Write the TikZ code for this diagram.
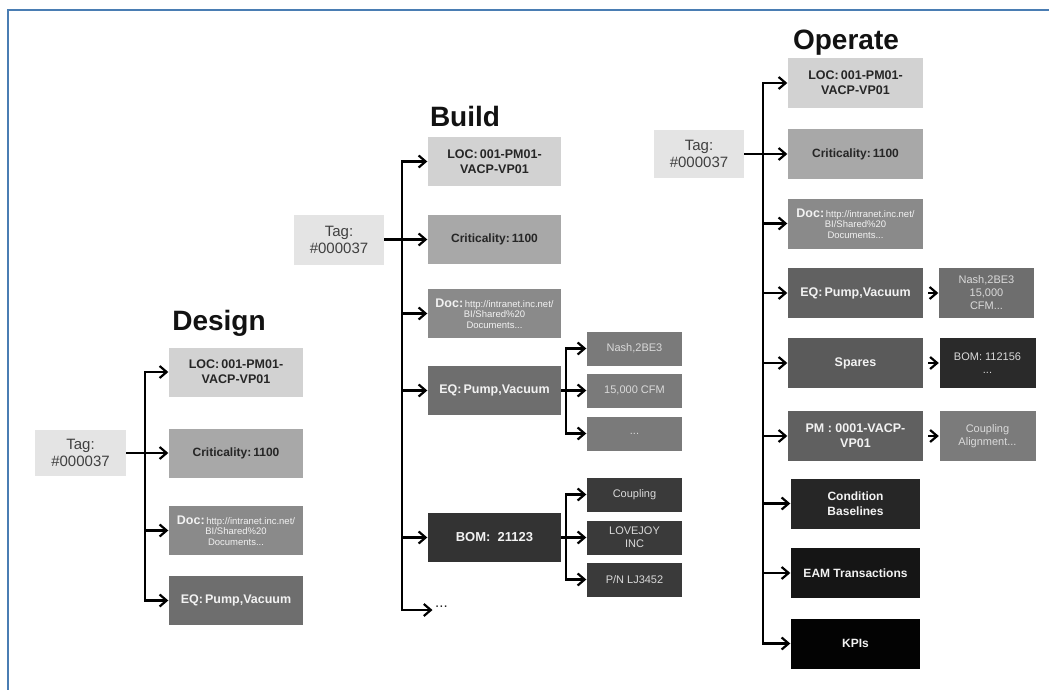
\documentclass[tikz,border=0pt]{standalone}
\usepackage{fontspec}
\setmainfont{Liberation Sans}
\usetikzlibrary{arrows.meta}
\definecolor{frameblue}{HTML}{4A7DB3}
\definecolor{tagfill}{HTML}{E4E4E4}
\definecolor{tagtext}{HTML}{404040}
\definecolor{locfill}{HTML}{D2D2D2}
\definecolor{critfill}{HTML}{A8A8A8}
\definecolor{docfill}{HTML}{8A8A8A}
\definecolor{eqfill}{HTML}{6E6E6E}
\definecolor{eqchild}{HTML}{7A7A7A}
\definecolor{bomfill}{HTML}{333333}
\definecolor{bomchild}{HTML}{3A3A3A}
\definecolor{sparefill}{HTML}{5A5A5A}
\definecolor{obomfill}{HTML}{2A2A2A}
\definecolor{pmfill}{HTML}{606060}
\definecolor{coupfill}{HTML}{7B7B7B}
\definecolor{condfill}{HTML}{262626}
\definecolor{eamfill}{HTML}{151515}
\definecolor{kpifill}{HTML}{030303}
\definecolor{darktext}{HTML}{262626}
\definecolor{lighttext}{HTML}{F2F2F2}
\definecolor{softtext}{HTML}{DADADA}
\begin{document}
\begin{tikzpicture}[x=1pt,y=-1pt,
  box/.style={rectangle, inner sep=0pt, align=center, text=lighttext,
    font=\bfseries\fontsize{12.5}{15}\selectfont},
  bigbox/.style={box, minimum width=134pt, minimum height=49pt},
  obox/.style={box, minimum width=135pt, minimum height=50pt},
  nbox/.style={box, minimum width=129pt, minimum height=50pt, font=\bfseries\fontsize{12}{15}\selectfont},
  childbox/.style={box, minimum width=95pt, minimum height=34pt, text=softtext,
    font=\fontsize{11}{13}\selectfont},
  ochildbox/.style={childbox, minimum height=50pt},
  tagbox/.style={rectangle, inner sep=0pt, fill=tagfill, minimum width=90pt, minimum height=47pt,
    align=center, text=tagtext, font=\fontsize{15}{17}\selectfont},
  title/.style={inner sep=0pt, text=black!93, font=\bfseries\fontsize{28}{30}\selectfont},
  loc/.style={fill=locfill, text=darktext},
  crit/.style={fill=critfill, text=darktext, font=\bfseries\fontsize{12}{14}\selectfont},
  docb/.style={fill=docfill, font=\fontsize{9.5}{10.5}\selectfont},
  arr/.style={line width=2.4pt, -{Straight Barb[length=7pt,width=12pt,line width=2.2pt]}, shorten >=0.5pt},
  ln/.style={line width=2.4pt}
]
\useasboundingbox (0,0) rectangle (1049,690);
\fill[white] (0,0) rectangle (1049,690);
\draw[frameblue, line width=2pt] (7.5,690) -- (7.5,10.5) -- (1049,10.5);

\newcommand{\doctext}{{\bfseries\fontsize{12.5}{12}\selectfont Doc:}\,http://intranet.inc.net/\\BI/Shared\%20\\Documents...}

% ---------------- Design ----------------
\node[title] (dtitle) at (219,323) {Design};
\node[tagbox, minimum width=91pt, minimum height=46pt] (dtag) at (80.5,453) {Tag:\\\#000037};
\node[bigbox, loc] (dloc) at (236,372) {LOC:\,001-PM01-\\VACP-VP01};
\node[bigbox, crit] (dcrit) at (236,453) {Criticality:\,1100};
\node[bigbox, docb] (ddoc) at (236,530.5) {\doctext};
\node[bigbox, fill=eqfill] (deq) at (236,600.5) {EQ:\,Pump,Vacuum};
\coordinate (dj) at (145,453);
\draw[arr] (dtag.east) -- (dcrit.west);
\draw[arr] (dj) |- (dloc.west);
\draw[arr] (dj) |- (ddoc.west);
\draw[arr] (dj) |- (deq.west);

% ---------------- Build ----------------
\node[title] (btitle) at (465,116) {Build};
\node[tagbox, minimum height=50pt] (btag) at (339,239.5) {Tag:\\\#000037};
\node[bigbox, loc, minimum width=133pt] (bloc) at (494.5,161.5) {LOC:\,001-PM01-\\VACP-VP01};
\node[bigbox, crit, minimum width=133pt] (bcrit) at (494.5,239.5) {Criticality:\,1100};
\node[bigbox, docb, minimum width=133pt] (bdoc) at (494.5,313.5) {\doctext};
\node[bigbox, fill=eqfill, minimum width=133pt] (beq) at (494.5,390.5) {EQ:\,Pump,Vacuum};
\node[bigbox, fill=bomfill, minimum width=133pt, font=\bfseries\fontsize{13}{15}\selectfont] (bbom) at (494.5,537.5) {BOM:\ \ 21123};
\node[anchor=west, inner sep=2pt, font=\fontsize{15}{15}\selectfont, text=black!85] (bmore) at (433,607) {...};
\coordinate (bj) at (402,239.5);
\draw[arr] (btag.east) -- (bcrit.west);
\draw[arr] (bj) |- (bloc.west);
\draw[arr] (bj) |- (bdoc.west);
\draw[arr] (bj) |- (beq.west);
\draw[arr] (bj) |- (bbom.west);
\draw[arr] (bj) |- (bmore.west |- 0,610);

\node[childbox, fill=eqchild] (bnash) at (634.5,348.5) {Nash,2BE3};
\node[childbox, fill=eqchild] (bcfm) at (634.5,390.5) {15,000 CFM};
\node[childbox, fill=eqchild] (bdots) at (634.5,433.5) {...};
\coordinate (bej) at (566,390.5);
\draw[arr] (beq.east) -- (bcfm.west);
\draw[arr] (bej) |- (bnash.west);
\draw[arr] (bej) |- (bdots.west);

\node[childbox, fill=bomchild] (bcoup) at (634.5,494.5) {Coupling};
\node[childbox, fill=bomchild] (blove) at (634.5,537.5) {LOVEJOY\\INC};
\node[childbox, fill=bomchild] (bpn) at (634.5,579.5) {P/N LJ3452};
\coordinate (bbj) at (566,537.5);
\draw[arr] (bbom.east) -- (blove.west);
\draw[arr] (bbj) |- (bcoup.west);
\draw[arr] (bbj) |- (bpn.west);

% ---------------- Operate ----------------
\node[title] (otitle) at (846,43) {Operate};
\node[tagbox] (otag) at (699,154) {Tag:\\\#000037};
\node[obox, loc] (oloc) at (855.5,83) {LOC:\,001-PM01-\\VACP-VP01};
\node[obox, crit] (ocrit) at (855.5,154) {Criticality:\,1100};
\node[obox, docb] (odoc) at (855.5,223.5) {\doctext};
\node[obox, fill=eqfill!88!black] (oeq) at (855.5,293) {EQ:\,Pump,Vacuum};
\node[obox, fill=sparefill] (ospares) at (855.5,363) {Spares};
\node[obox, fill=pmfill] (opm) at (855.5,436) {PM : 0001-VACP-\\VP01};
\node[nbox, fill=condfill] (ocond) at (855.5,503.5) {Condition\\Baselines};
\node[nbox, fill=eamfill] (oeam) at (855.5,573) {EAM Transactions};
\node[nbox, fill=kpifill] (okpi) at (855.5,643.5) {KPIs};
\coordinate (oj) at (763,154);
\draw[arr] (otag.east) -- (ocrit.west);
\draw[arr] (oj) |- (oloc.west);
\draw[arr] (oj) |- (odoc.west);
\draw[arr] (oj) |- (oeq.west);
\draw[arr] (oj) |- (ospares.west);
\draw[arr] (oj) |- (opm.west);
\draw[arr] (oj) |- (ocond.west);
\draw[arr] (oj) |- (oeam.west);
\draw[arr] (oj) |- (okpi.west);

\node[ochildbox, fill=eqchild!90!black] (onash) at (986.5,293) {Nash,2BE3\\15,000\\CFM...};
\node[ochildbox, fill=obomfill, minimum width=96pt] (obom) at (987.5,363) {BOM: 112156\\...};
\node[ochildbox, fill=coupfill, minimum width=96pt] (ocoup) at (987.5,436) {Coupling\\Alignment...};
\draw[arr, shorten <=5pt] (oeq.east) -- (onash.west);
\draw[arr, shorten <=5pt] (ospares.east) -- (obom.west);
\draw[arr, shorten <=5pt] (opm.east) -- (ocoup.west);
\end{tikzpicture}
\end{document}
